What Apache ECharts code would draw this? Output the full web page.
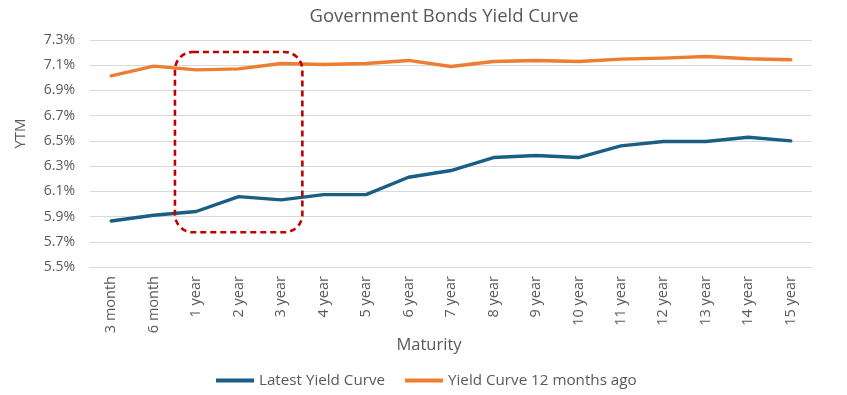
<!DOCTYPE html>
<html>
<head>
<meta charset="utf-8">
<script src="https://cdn.jsdelivr.net/npm/echarts@6/dist/echarts.min.js"></script>
<style>
html,body{margin:0;padding:0;background:#fff;}
#chart{width:847px;height:395px;}
</style>
</head>
<body>
<div id="chart"></div>
<script>
var categories = ['3 month','6 month','1 year','2 year','3 year','4 year','5 year','6 year','7 year','8 year','9 year','10 year','11 year','12 year','13 year','14 year','15 year'];
var latestYield = [5.865, 5.91, 5.94, 6.058, 6.032, 6.074, 6.074, 6.212, 6.265, 6.368, 6.384, 6.368, 6.46, 6.495, 6.495, 6.529, 6.50];
var yieldAgo = [7.016, 7.093, 7.063, 7.071, 7.114, 7.106, 7.114, 7.138, 7.09, 7.13, 7.138, 7.13, 7.148, 7.156, 7.169, 7.151, 7.143];
var seriesNames = ['Latest Yield Curve', 'Yield Curve 12 months ago'];
// highlight box: from between categories 1 and 2 to between 4 and 5, value range
var highlightCats = [1.5, 4.5];
var highlightVals = [5.775, 7.205];

var FONT = '"Open Sans", sans-serif';
var chart = echarts.init(document.getElementById('chart'));
chart.setOption({
  animation: false,
  textStyle: { fontFamily: FONT },
  title: [
    { text: 'Government Bonds Yield Curve', left: 439, top: 2, textAlign: 'center',
      textStyle: { fontFamily: FONT, fontSize: 18.5, fontWeight: 'normal', color: '#595959' } },
    { text: 'Maturity', left: 424, top: 332, textAlign: 'center',
      textStyle: { fontFamily: FONT, fontSize: 16.5, fontWeight: 'normal', color: '#595959' } }
  ],
  grid: { left: 90, right: 35, top: 40, bottom: 128, containLabel: false },
  legend: {
    data: seriesNames, left: 211, top: 368, icon: 'rect', itemWidth: 38, itemHeight: 4, itemGap: 20,
    textStyle: { fontFamily: FONT, fontSize: 15.2, color: '#595959' }
  },
  xAxis: {
    type: 'category', data: categories, boundaryGap: true,
    axisLine: { show: true, lineStyle: { color: '#D9D9D9', width: 1 } },
    axisTick: { show: false },
    axisLabel: { rotate: 90, margin: 9, fontSize: 14.5, color: '#595959', fontFamily: FONT, interval: 0 }
  },
  yAxis: {
    type: 'value', min: 5.5, max: 7.3, interval: 0.2,
    name: 'YTM', nameLocation: 'middle', nameGap: 62, nameRotate: 90,
    nameTextStyle: { fontSize: 15, color: '#595959', fontFamily: FONT, padding: [0, 0, 0, 40] },
    axisLine: { show: false }, axisTick: { show: false },
    splitLine: { lineStyle: { color: '#D9D9D9', width: 1 } },
    axisLabel: { fontSize: 14, color: '#595959', fontFamily: FONT, margin: 15,
      formatter: function (v) { return v.toFixed(1) + '%'; } }
  },
  series: [
    { name: seriesNames[0], type: 'line', data: latestYield, symbol: 'none', smooth: false,
      lineStyle: { color: '#1A5E83', width: 3.4, cap: 'round', join: 'round' }, itemStyle: { color: '#1A5E83' } },
    { name: seriesNames[1], type: 'line', data: yieldAgo, symbol: 'none', smooth: false,
      lineStyle: { color: '#ED7D31', width: 3.4, cap: 'round', join: 'round' }, itemStyle: { color: '#ED7D31' } }
  ]
});

function catPx(c) {
  var lo = Math.floor(c), hi = Math.ceil(c);
  var a = chart.convertToPixel({ xAxisIndex: 0 }, lo);
  var b = chart.convertToPixel({ xAxisIndex: 0 }, hi);
  return a + (b - a) * (c - lo);
}
var x1 = catPx(highlightCats[0]), x2 = catPx(highlightCats[1]);
var yTop = chart.convertToPixel({ yAxisIndex: 0 }, highlightVals[1]);
var yBot = chart.convertToPixel({ yAxisIndex: 0 }, highlightVals[0]);
chart.setOption({
  graphic: [{
    type: 'rect', z: 100,
    shape: { x: x1, y: yTop, width: x2 - x1, height: yBot - yTop, r: 18 },
    style: { fill: 'none', stroke: '#C00000', lineWidth: 2.6, lineDash: [6, 4] }
  }]
});
</script>
</body>
</html>
